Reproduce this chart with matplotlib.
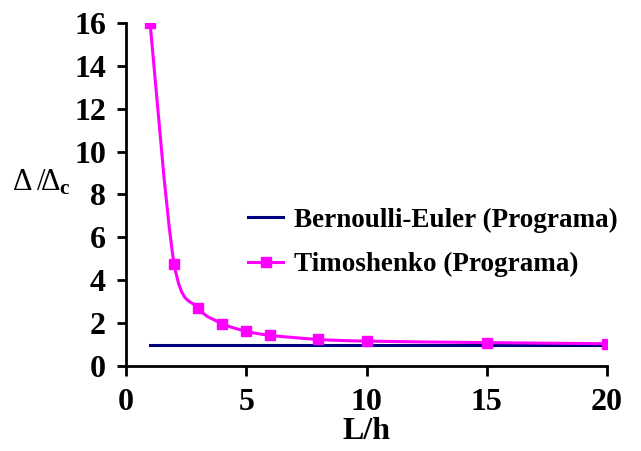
import matplotlib
matplotlib.use("Agg")
import matplotlib.pyplot as plt
from matplotlib.path import Path
from matplotlib.patches import PathPatch
from matplotlib.lines import Line2D
import numpy as np

plt.rcParams['font.family'] = ['Liberation Serif', 'DejaVu Serif']
plt.rcParams['mathtext.fontset'] = 'custom'
plt.rcParams['mathtext.rm'] = 'Liberation Serif'
plt.rcParams['mathtext.bf'] = 'Liberation Serif:bold'

# Data
lh_bernoulli = [1, 20]
ratio_bernoulli = [1.0, 1.0]
lh_timo = [1, 2, 3, 4, 5, 6, 8, 10, 15, 20]
ratio_timo = [16.0, 4.76, 2.70, 1.98, 1.62, 1.43, 1.24, 1.16, 1.09, 1.04]

fig = plt.figure(figsize=(6.41, 4.51), dpi=100)
ax = fig.add_axes([0.1966, 0.1885, 0.7504, 0.7605])

navy = '#000080'
mag = '#FF00FF'

ax.plot(lh_bernoulli, ratio_bernoulli, color=navy, lw=2.2, zorder=2)

# Excel-like smoothed line (cardinal spline as Bezier segments, clamped)
x = np.array(lh_timo, float)
y = np.array(ratio_timo, float)
verts = [(x[0], y[0])]
codes = [Path.MOVETO]
t = 1.0 / 6.0
n = len(x)
for i in range(n - 1):
    p0 = (x[i - 1], y[i - 1]) if i > 0 else (x[i], y[i])
    p1 = (x[i], y[i])
    p2 = (x[i + 1], y[i + 1])
    p3 = (x[i + 2], y[i + 2]) if i + 2 < n else (x[i + 1], y[i + 1])
    lo, hi = min(p1[1], p2[1]), max(p1[1], p2[1])
    c1 = (p1[0] + (p2[0] - p0[0]) * t, np.clip(p1[1] + (p2[1] - p0[1]) * t, lo, hi))
    c2 = (p2[0] - (p3[0] - p1[0]) * t, np.clip(p2[1] - (p3[1] - p1[1]) * t, lo, hi))
    verts += [c1, c2, p2]
    codes += [Path.CURVE4] * 3
patch = PathPatch(Path(verts, codes), facecolor='none', edgecolor=mag, lw=2.2, zorder=3)
ax.add_patch(patch)
ax.plot(lh_timo, ratio_timo, ls='none', marker='s', ms=6.5, color=mag, zorder=4)

ax.set_xlim(0, 20)
ax.set_ylim(0, 16)
ax.set_xticks([0, 5, 10, 15, 20])
ax.set_yticks(range(0, 17, 2))
for s in ['top', 'right']:
    ax.spines[s].set_visible(False)
for s in ['left', 'bottom']:
    ax.spines[s].set_linewidth(2)
ax.tick_params(axis='x', direction='out', length=7, width=2, pad=9, labelsize=23)
ax.tick_params(axis='y', direction='out', length=6.5, width=2, pad=8, labelsize=23)
for lab in ax.get_xticklabels() + ax.get_yticklabels():
    lab.set_fontweight('bold')

ax.set_xlabel('L/h', fontsize=23, fontweight='bold', labelpad=0)
fig.text(0.018, 0.595, r'$\mathregular{\Delta\,/\!\Delta_{\mathbf{c}}}$', fontsize=22,
         ha='left', va='center')

handles = [Line2D([], [], color=navy, lw=2.2),
           Line2D([], [], color=mag, lw=2.2, marker='s', ms=6.5)]
labels = ['Bernoulli-Euler (Programa)', 'Timoshenko (Programa)']
leg = ax.legend(handles, labels, loc='upper left', bbox_to_anchor=(0.231, 0.494),
                frameon=False, prop={'family': 'Liberation Serif', 'weight': 'bold', 'size': 19.5},
                handlelength=1.3, handletextpad=0.4, labelspacing=0.72, borderaxespad=0)

fig.savefig('out.png', dpi=100)
